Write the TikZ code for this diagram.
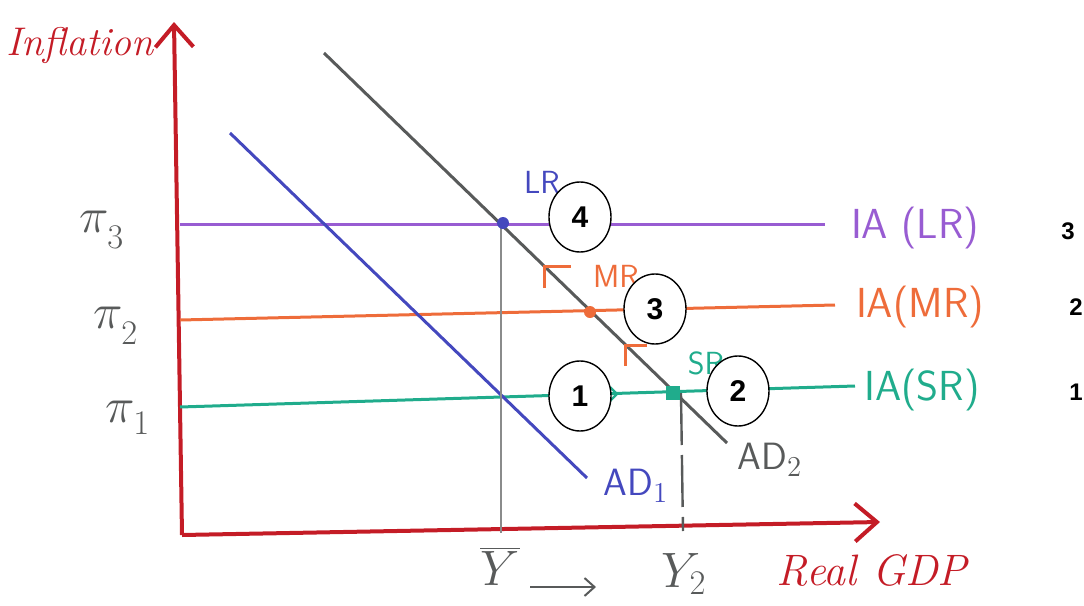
\documentclass[tikz,border=0pt]{standalone}
\usepackage{fontspec}
\newfontfamily\numfont{Liberation Sans}
\usetikzlibrary{arrows.meta,shapes.geometric}
\definecolor{axisred}{RGB}{196,28,38}
\definecolor{lrpurple}{RGB}{152,92,210}
\definecolor{mrorange}{RGB}{238,108,58}
\definecolor{srgreen}{RGB}{32,172,140}
\definecolor{adblue}{RGB}{68,72,190}
\definecolor{adgray}{RGB}{88,90,90}
\tikzset{
  axis/.style={axisred,line width=2pt,-{Straight Barb[length=11pt,width=19pt,line width=2pt]}},
  ialine/.style={line width=1.5pt},
  adline/.style={line width=1.5pt},
  guide/.style={adgray!70,line width=0.8pt},
  eqdot/.style={circle,fill,inner sep=0pt,minimum size=6pt},
  stagenum/.style={ellipse,draw,line width=0.7pt,fill=white,minimum width=31pt,minimum height=35pt,inner sep=0pt,font=\numfont\bfseries\fontsize{15}{15}\selectfont},
  sidenum/.style={font=\numfont\bfseries\fontsize{12}{12}\selectfont},
  ialbl/.style={font=\sffamily\fontsize{21}{21}\selectfont},
  ptlbl/.style={font=\sffamily\fontsize{16}{16}\selectfont},
  pilbl/.style={adgray,font=\fontsize{27}{27}\selectfont}
}
\begin{document}
\begin{tikzpicture}[x=0.5pt,y=-0.5pt]
\useasboundingbox (0,0) rectangle (1084,606);
% axes
\coordinate (O) at (182,535);
\coordinate (yTop) at (174,22);
\coordinate (xEnd) at (880,522);
\draw[axis] (O) -- (yTop);
\draw[axis] (O) -- (xEnd);
\node[axisred,font=\itshape\fontsize{20}{20}\selectfont] (inflation) at (80,45) {Inflation};
\node[axisred,font=\itshape\fontsize{22}{22}\selectfont] (realgdp) at (872,570) {Real GDP};
% IA lines
\coordinate (lrA) at (180,224); \coordinate (lrB) at (825,224);
\coordinate (mrA) at (180,320); \coordinate (mrB) at (835,305);
\coordinate (srA) at (180,407); \coordinate (srB) at (855,386);
\draw[ialine,lrpurple] (lrA) -- (lrB);
\draw[ialine,mrorange] (mrA) -- (mrB);
\draw[ialine,srgreen] (srA) -- (srB);
\node[ialbl,lrpurple] (lrlbl) at (915,228) {IA (LR)};
\node[ialbl,mrorange] (mrlbl) at (920,307) {IA(MR)};
\node[ialbl,srgreen] (srlbl) at (922,390) {IA(SR)};
\node[sidenum] (n3) at (1068,231) {3};
\node[sidenum] (n2) at (1076,307) {2};
\node[sidenum] (n1) at (1076,392) {1};
% inflation levels
\node[pilbl] (pi3) at (102,230) {$\pi_{\raisebox{-4pt}{$\scriptstyle 3$}}$};
\node[pilbl] (pi2) at (116,326) {$\pi_{\raisebox{-4pt}{$\scriptstyle 2$}}$};
\node[pilbl] (pi1) at (128,418) {$\pi_{\raisebox{-2pt}{$\scriptstyle 1$}}$};
% AD curves
\coordinate (ad1A) at (230,133); \coordinate (ad1B) at (587,478);
\coordinate (ad2A) at (324,53); \coordinate (ad2B) at (727,443);
\draw[adline,adblue] (ad1A) -- (ad1B);
\draw[adline,adgray] (ad2A) -- (ad2B);
\node[adblue,font=\sffamily\fontsize{19}{19}\selectfont] (ad1lbl) at (636,486) {AD$_1$};
\node[adgray,font=\sffamily\fontsize{19}{19}\selectfont] (ad2lbl) at (770,460) {AD$_2$};
% output levels
\coordinate (ybarTop) at (501,223); \coordinate (ybarBot) at (501,533);
\coordinate (y2Top) at (681,393); \coordinate (y2Bot) at (683,531);
\draw[guide] (ybarTop) -- (ybarBot);
\draw[adgray,line width=1.2pt,dash pattern=on 26pt off 5pt] (y2Top) -- (y2Bot);
\node[adgray,font=\fontsize{24}{24}\selectfont] (ybar) at (500,566) {$\overline{Y}$};
\node[adgray,font=\fontsize{24}{24}\selectfont] (y2) at (684,574) {$Y_2$};
\coordinate (shA) at (530,587); \coordinate (shB) at (596,587);
\draw[adgray,line width=1pt,-{Straight Barb[length=5pt,width=9pt]}] (shA) -- (shB);
% equilibria
\node[eqdot,adblue] (lrpt) at (503,223) {};
\node[eqdot,mrorange] (mrpt) at (590,312) {};
\node[eqdot,srgreen,rectangle,minimum size=7pt] (srpt) at (673,393) {};
\node[ptlbl,adblue] (lrtxt) at (542,182) {LR};
\node[ptlbl,mrorange] (mrtxt) at (616,276) {MR};
\node[ptlbl,srgreen] (srtxt) at (706,363) {SR};
% movement marks
\draw[mrorange,line width=1.5pt] (544,288) -- (544,266) -- (571,266);
\draw[mrorange,line width=1.5pt] (625,366) -- (625,345) -- (647,345);
\draw[srgreen,line width=1.2pt] (610,387) -- (617,394) -- (610,401);
% stages
\node[stagenum] (s4) at (580,217) {4};
\node[stagenum] (s3) at (655,309) {3};
\node[stagenum] (s1) at (580,396) {1};
\node[stagenum] (s2) at (738,391) {2};
\end{tikzpicture}
\end{document}
